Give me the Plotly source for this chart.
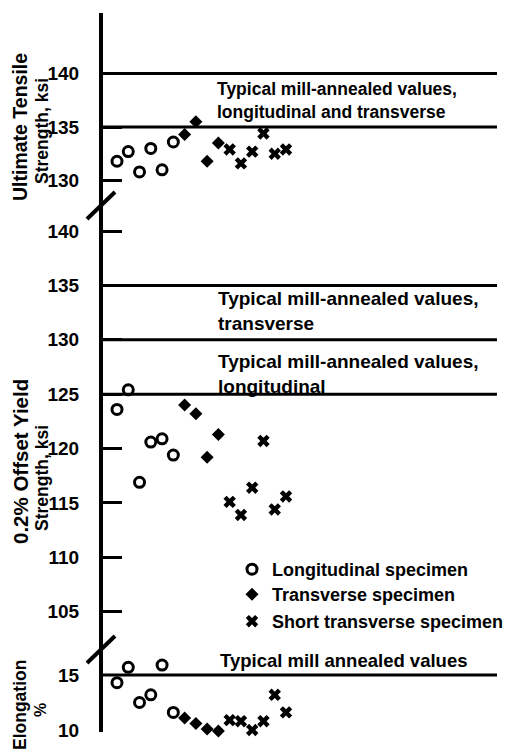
import plotly.graph_objects as go

W = 511
SY = 764 / 755          # vertical compensation for the capture
H = round(755 * SY)

# ---------------- data ----------------
specimen_long = [1, 2, 3, 4, 5, 6]
specimen_trans = [7, 8, 9, 10]
specimen_short = [11, 12, 13, 14, 15, 16]

uts_long = [131.8, 132.7, 130.8, 133.0, 131.0, 133.6]
uts_trans = [134.3, 135.5, 131.8, 133.5]
uts_short = [132.9, 131.6, 132.7, 134.4, 132.5, 132.9]

ys_long = [123.6, 125.4, 116.9, 120.6, 120.9, 119.4]
ys_trans = [124.0, 123.2, 119.2, 121.3]
ys_short = [115.1, 113.9, 116.4, 120.7, 114.4, 115.6]

el_long = [14.3, 15.7, 12.5, 13.2, 15.9, 11.6]
el_trans = [11.1, 10.6, 10.1, 9.9]
el_short = [10.9, 10.8, 10.0, 10.8, 13.2, 11.6]

typical_uts = [140, 135]
typical_ys = [135, 130, 125]
typical_el = [15]

uts_ticks = [130, 135, 140]
ys_ticks = [105, 110, 115, 120, 125, 130, 135, 140]
el_ticks = [10, 15]

series_names = ["Longitudinal specimen", "Transverse specimen", "Short transverse specimen"]

# ---------------- layout helpers ----------------
FONT = "Liberation Sans"


def py(p):
    return 1 - (p * SY) / H


def px_x(p):
    return p / W


def axis_from_px(top_px, bot_px, v_ref, px_ref, px_per_unit):
    lo = v_ref - (bot_px - px_ref) / px_per_unit
    hi = v_ref + (px_ref - top_px) / px_per_unit
    return [py(bot_px), py(top_px)], [lo, hi]


AX_L, AX_R = 103, 497
x_ppu = (286 - 117) / 15.0
x_range = [1 - (117 - AX_L) / x_ppu, 16 + (AX_R - 286) / x_ppu]

dom_uts, rng_uts = axis_from_px(13, 205, 135, 127, 10.7)
dom_ys, rng_ys = axis_from_px(205, 645, 122.5, 421.4, 10.874)
dom_el, rng_el = axis_from_px(645, 732, 15, 675, 11.0)

marker_styles = [
    dict(symbol="circle-open", size=10, color="black", line=dict(width=3, color="black")),
    dict(symbol="diamond", size=10, color="black", line=dict(width=0)),
    dict(symbol="x", size=11, color="black", line=dict(width=0)),
]
legend_ids = ["legend", "legend2", "legend3"]

fig = go.Figure()

groups = [
    ("y", [uts_long, uts_trans, uts_short], True),
    ("y2", [ys_long, ys_trans, ys_short], False),
    ("y3", [el_long, el_trans, el_short], False),
]
xs = [specimen_long, specimen_trans, specimen_short]

for yref, vals, show in groups:
    for i in range(3):
        fig.add_trace(go.Scatter(
            x=xs[i], y=vals[i], mode="markers", xaxis="x", yaxis=yref,
            name=series_names[i], legendgroup=series_names[i], showlegend=show,
            legend=legend_ids[i], marker=marker_styles[i], cliponaxis=False,
        ))

# reference lines (typical mill-annealed values)
for v in typical_uts:
    fig.add_shape(type="line", xref="x domain", x0=0, x1=1, yref="y", y0=v, y1=v,
                  line=dict(color="black", width=3))
for v in typical_ys:
    fig.add_shape(type="line", xref="x domain", x0=0, x1=1, yref="y2", y0=v, y1=v,
                  line=dict(color="black", width=3))
for v in typical_el:
    fig.add_shape(type="line", xref="x domain", x0=0, x1=1, yref="y3", y0=v, y1=v,
                  line=dict(color="black", width=3))

# axis break marks
for (x0, y0, x1, y1) in [(87, 219, 115, 192), (87, 663, 115, 636)]:
    fig.add_shape(type="line", xref="paper", yref="paper",
                  x0=px_x(x0), y0=py(y0), x1=px_x(x1), y1=py(y1),
                  line=dict(color="black", width=4))

# text annotations
notes = [
    ("Typical mill-annealed values,<br>longitudinal and transverse", 215, 100, 17.5),
    ("Typical mill-annealed values,<br>transverse", 216, 311, 19),
    ("Typical mill-annealed values,<br>longitudinal", 216, 374, 19),
    ("Typical mill annealed values", 218, 660, 18.5),
]
for txt, x, y, s in notes:
    fig.add_annotation(text=txt, xref="paper", yref="paper", x=px_x(x), y=py(y),
                       xanchor="left", yanchor="middle", align="left", showarrow=False,
                       font=dict(family=FONT, size=s, color="black", weight="bold"))

titles = [
    ("Ultimate Tensile", 20, 127, 19.5),
    ("Strength, ksi", 42, 131, 17.5),
    ("0.2% Offset Yield", 20, 462, 20.5),
    ("Strength, ksi", 42, 478, 17.5),
    ("Elongation", 20, 705, 17.5),
    ("%", 40, 710, 16),
]
for txt, x, y, s in titles:
    fig.add_annotation(text=txt, xref="paper", yref="paper", x=px_x(x), y=py(y),
                       xanchor="center", yanchor="middle", showarrow=False, textangle=-90,
                       font=dict(family=FONT, size=s, color="black", weight="bold"))

yaxis_common = dict(
    showline=True, linecolor="black", linewidth=4, showgrid=False, zeroline=False,
    ticks="inside", ticklen=19, tickwidth=3, tickcolor="black",
    tickfont=dict(family=FONT, size=19, color="black", weight="bold"),
    ticklabelstandoff=16, anchor="x", fixedrange=True,
)

legend_common = dict(xanchor="left", yanchor="top", bgcolor="rgba(0,0,0,0)", borderwidth=0,
                     font=dict(family=FONT, size=18, color="black", weight="bold"),
                     itemclick=False, itemdoubleclick=False)

fig.update_layout(
    width=W, height=H, autosize=False,
    margin=dict(l=0, r=0, t=0, b=0),
    paper_bgcolor="white", plot_bgcolor="white",
    xaxis=dict(domain=[px_x(AX_L), px_x(AX_R)], range=x_range, visible=False,
               anchor="y3", fixedrange=True),
    yaxis=dict(domain=dom_uts, range=rng_uts, tickvals=uts_ticks, **yaxis_common),
    yaxis2=dict(domain=dom_ys, range=rng_ys, tickvals=ys_ticks, **yaxis_common),
    yaxis3=dict(domain=dom_el, range=rng_el, tickvals=el_ticks,
                **{**yaxis_common, "ticks": ""}),
    legend=dict(x=px_x(232), y=py(551), **legend_common),
    legend2=dict(x=px_x(232), y=py(576), **legend_common),
    legend3=dict(x=px_x(232), y=py(603), **legend_common),
    showlegend=True,
)

page_fix = (
    "var s=document.createElement('style');"
    "s.textContent='html,body{margin:0;padding:0;overflow:hidden;}';"
    "document.head.appendChild(s);"
)

fig.write_html("out.html", config={"displayModeBar": False, "responsive": False},
               post_script=page_fix)
